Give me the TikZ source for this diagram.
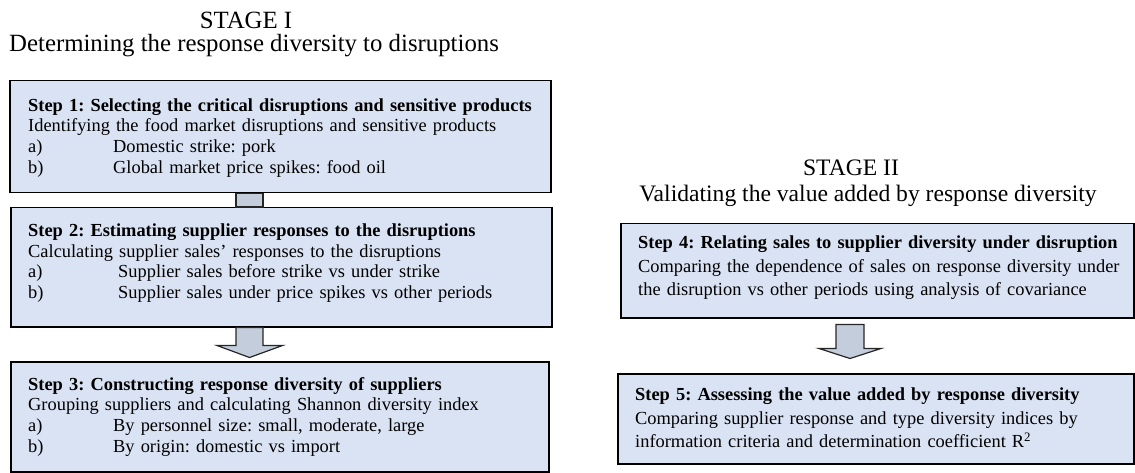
\documentclass[tikz,border=0pt]{standalone}
\usepackage{fontspec}
\setmainfont{Liberation Serif}
\usetikzlibrary{calc}
\definecolor{boxfill}{RGB}{218,227,243}
\definecolor{arrfill}{RGB}{196,205,219}
\hyphenpenalty=10000
\exhyphenpenalty=10000
\frenchspacing
\begin{document}
\begin{tikzpicture}[x=1pt,y=-1pt,
  stepbox/.style={draw=black, line width=1.5pt, fill=boxfill, rectangle, inner sep=0pt, anchor=north west},
  steptext/.style={inner sep=0pt, align=left, anchor=west, text width=520pt, font=\fontsize{18.4}{20.6}\selectfont},
  steptextR/.style={inner sep=0pt, align=left, anchor=west, text width=500pt, font=\fontsize{18.4}{23.4}\selectfont},
  titleL/.style={inner sep=0pt, font=\fontsize{24.8}{28}\selectfont},
  titleR/.style={inner sep=0pt, font=\fontsize{23.6}{27}\selectfont},
  blockarrow/.style={draw=black!85, line width=1.2pt, fill=arrfill, line join=miter}
]
\useasboundingbox (0,0) rectangle (1135,473);

% titles
\node[titleL, anchor=center] (s1) at (246,20) {STAGE I};
\node[titleL, anchor=west] (s1d) at (9,46) {Determining the response diversity to disruptions};
\node[titleR, anchor=center] (s2) at (851,168) {STAGE II};
\node[titleR, anchor=center] (s2d) at (868,196) {Validating the value added by response diversity};

% boxes
\node[stepbox, minimum width=541pt, minimum height=112pt] (b1) at (9,80) {};
\node[stepbox, minimum width=541pt, minimum height=119pt] (b2) at (10,207) {};
\node[stepbox, minimum width=538pt, minimum height=110pt] (b3) at (10,361) {};
\node[stepbox, minimum width=513pt, minimum height=94pt] (b4) at (620,223) {};
\node[stepbox, minimum width=516pt, minimum height=90pt] (b5) at (617,373) {};

% texts
\node[steptext] (t1) at ($(b1.west)+(19,1)$) {%
\textbf{Step 1: Selecting the critical disruptions and sensitive products}\\
Identifying the food market disruptions and sensitive products\\
\makebox[85pt][l]{a)}Domestic strike: pork\\
\makebox[85pt][l]{b)}Global market price spikes: food oil};

\node[steptext] (t2) at ($(b2.west)+(18,-4)$) {%
\textbf{Step 2: Estimating supplier responses to the disruptions}\\
Calculating supplier sales’ responses to the disruptions\\
\makebox[90pt][l]{a)}Supplier sales before strike vs under strike\\
\makebox[90pt][l]{b)}Supplier sales under price spikes vs other periods};

\node[steptext] (t3) at ($(b3.west)+(18,0)$) {%
\textbf{Step 3: Constructing response diversity of suppliers}\\
Grouping suppliers and calculating Shannon diversity index\\
\makebox[85pt][l]{a)}By personnel size: small, moderate, large\\
\makebox[85pt][l]{b)}By origin: domestic vs import};

\node[steptextR] (t4) at ($(b4.west)+(18,-3)$) {%
\textbf{Step 4: Relating sales to supplier diversity under disruption}\\
Comparing the dependence of sales on response diversity under\\
the disruption vs other periods using analysis of covariance};

\node[steptextR] (t5) at ($(b5.west)+(18,-1)$) {%
\textbf{Step 5: Assessing the value added by response diversity}\\
Comparing supplier response and type diversity indices by\\
information criteria and determination coefficient R\textsuperscript{2}};

% connectors
\draw[blockarrow] ($(b1.south west)+(227,0)$) rectangle ($(b2.north west)+(253,0)$);

\draw[blockarrow] ($(b2.south west)+(226,0)$) -- ++(0,18) -- ++(-19,0)
  -- ++(32.5,12) -- ++(33,-12) -- ++(-19.5,0) -- ++(0,-18) -- cycle;

\draw[blockarrow] ($(b4.south west)+(216,6)$) -- ++(0,24) -- ++(-17,0)
  -- ++(31,10) -- ++(31,-10) -- ++(-17,0) -- ++(0,-24) -- cycle;
\end{tikzpicture}
\end{document}
